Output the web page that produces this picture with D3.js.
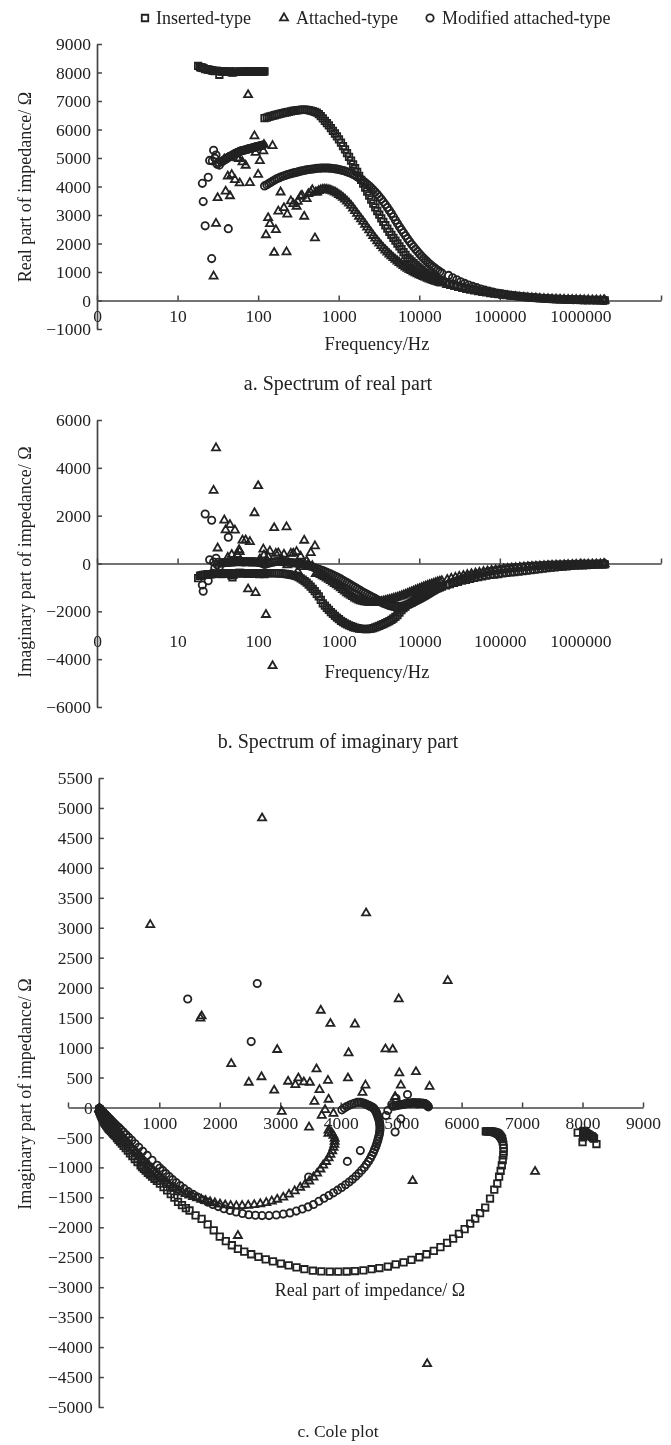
<!DOCTYPE html>
<html lang="en">
<head>
    <meta charset="UTF-8">
    <title>Impedance spectra</title>
    <script src="https://cdn.jsdelivr.net/npm/d3@7"></script>
    <style>
        body { margin: 0; background: #fff; }
        svg { display: block; filter: blur(0.45px); }
    </style>
</head>
<body>
<div id="chart"></div>
<script>
// every row is [frequency Hz, real part, imaginary part]
var insertedLow = [[18,8230,-610],[19,8190,-520],[19.5,8180,-510],[20,8170,-500],[20.5,8160,-490],[21,8150,-480],[22,8120,-470],[23.5,8110,-460],[24,8100,-455],[25,8090,-450],[26,8080,-445],[27,8070,-440],[28,8060,-435],[29,8050,-430],[30,8055,-430],[31,8060,-430],[33,7920,-420],[34,8050,-435],[35,8040,-440],[36,8035,-435],[37,8030,-430],[38,8030,-425],[39,8030,-420],[40,8025,-415],[42,8020,-400],[43.5,8030,-405],[45,8040,-410],[46.5,8010,-500],[48,8000,-580],[49.5,8010,-470],[51,8020,-400],[52.5,8025,-405],[54,8030,-410],[56,8025,-400],[58,8020,-390],[60,8025,-395],[62,8030,-400],[64,8025,-405],[66,8020,-410],[68,8030,-405],[70,8040,-400],[72,8035,-410],[74,8030,-420],[76,8025,-415],[78,8020,-410],[80.5,8030,-405],[83,8040,-400],[85.5,8030,-410],[88,8020,-420],[90.5,8025,-415],[93,8030,-410],[95.5,8035,-420],[98,8040,-430],[100.5,8030,-435],[103,8020,-440],[105.5,8025,-430],[108,8030,-420],[110.5,8030,-425],[113,8030,-430],[116.5,8035,-435],[120,8040,-440]];

var insertedCurve = [[120,6400,-400],[128,6420,-400],[135,6440,-400],[142,6460,-400],[150,6480,-400],[160,6500,-402],[170,6520,-405],[180,6538,-410],[190,6555,-415],[202,6572,-422],[215,6590,-430],[227,6605,-442],[240,6620,-455],[255,6635,-472],[270,6650,-490],[285,6660,-510],[300,6670,-530],[318,6680,-570],[337,6690,-620],[357,6695,-675],[378,6695,-735],[400,6690,-800],[424,6680,-880],[449,6665,-965],[476,6645,-1060],[504,6620,-1155],[534,6590,-1270],[566,6540,-1370],[599,6470,-1520],[635,6390,-1670],[673,6305,-1765],[713,6225,-1855],[755,6142,-1940],[800,6050,-2030],[847,5955,-2110],[898,5860,-2190],[951,5760,-2260],[1007,5650,-2330],[1067,5540,-2395],[1130,5420,-2450],[1197,5300,-2500],[1268,5170,-2545],[1343,5040,-2585],[1423,4910,-2620],[1507,4780,-2655],[1597,4640,-2680],[1692,4510,-2700],[1792,4375,-2720],[1898,4235,-2730],[2011,4100,-2738],[2130,3960,-2740],[2257,3820,-2740],[2390,3680,-2735],[2532,3540,-2725],[2683,3400,-2700],[2842,3270,-2670],[3010,3140,-2635],[3189,3010,-2605],[3378,2880,-2570],[3578,2760,-2535],[3791,2640,-2495],[4016,2520,-2450],[4254,2405,-2405],[4507,2300,-2360],[4774,2200,-2300],[5058,2100,-2230],[5358,2000,-2155],[5675,1900,-2050],[6012,1800,-1950],[6369,1700,-1860],[6747,1600,-1800],[7147,1500,-1720],[7571,1440,-1680],[8020,1375,-1630],[8496,1310,-1575],[9000,1250,-1505],[9534,1190,-1445],[10100,1130,-1385],[10700,1070,-1330],[11334,1010,-1270],[12007,960,-1225],[12719,920,-1190],[13474,880,-1155],[14273,845,-1120],[15120,810,-1090],[16018,775,-1055],[16968,745,-1025],[17975,715,-995],[19042,690,-965],[21400,640,-910],[24000,595,-860],[27000,555,-810],[30200,515,-765],[33900,480,-720],[38000,445,-680],[42700,410,-640],[47900,380,-605],[53700,350,-570],[60300,325,-540],[67600,300,-510],[75900,280,-480],[85100,260,-460],[95500,240,-440],[107000,220,-415],[120000,200,-395],[135000,180,-375],[151000,165,-355],[170000,150,-335],[191000,135,-315],[214000,120,-295],[240000,108,-275],[269000,96,-255],[302000,85,-235],[339000,75,-215],[380000,66,-195],[427000,58,-175],[479000,50,-158],[537000,44,-142],[603000,38,-128],[676000,33,-115],[759000,29,-103],[851000,25,-92],[955000,21,-82],[1070000,18,-73],[1200000,16,-65],[1350000,13,-57],[1510000,11,-50],[1700000,9,-44],[1910000,8,-39],[2000000,7,-36]];

var attachedScatter = [[28,850,3050],[30,2700,4830],[31.4,3600,640],[38,4960,1810],[39.5,3830,1400],[42,4360,250],[44.7,3670,1620],[47,4410,370],[51.5,4235,1390],[55,4995,370],[58,4970,575],[59,4120,490],[64,4860,970],[70,4740,975],[75,7215,-1070],[79,4130,910],[90,5770,2115],[93,5190,-1225],[100,4420,3245],[105,4900,180],[116,5245,595],[118,5470,350],[125,2300,-2140],[133,2900,285],[140,2690,510],[151,5430,-4280],[158,1680,1490],[166,2480,418],[178,3130,435],[190,3800,134],[209,3250,380],[225,1700,1525],[230,3025,-67],[255,3490,418],[273,3390,423],[300,3300,490],[310,3477,-330],[336,3650,296],[350,3687,-134],[373,2950,965],[400,3565,100],[420,3742,-38],[450,3790,450],[470,3880,-100],[507,2190,730],[520,3797,-435]];

var attachedCurve = [[540,3800,-380],[566,3850,-420],[599,3880,-470],[635,3900,-520],[673,3900,-570],[713,3895,-620],[755,3880,-670],[800,3860,-725],[847,3830,-785],[898,3800,-845],[951,3760,-905],[1007,3710,-965],[1067,3665,-1030],[1130,3610,-1100],[1197,3550,-1165],[1268,3480,-1230],[1343,3410,-1285],[1423,3330,-1335],[1507,3240,-1395],[1597,3145,-1450],[1692,3050,-1500],[1792,2950,-1535],[1898,2860,-1565],[2011,2770,-1590],[2130,2670,-1610],[2257,2570,-1625],[2390,2470,-1635],[2532,2370,-1640],[2683,2275,-1645],[2842,2180,-1640],[3010,2090,-1630],[3189,2005,-1615],[3378,1920,-1595],[3578,1840,-1575],[3791,1765,-1555],[4016,1695,-1535],[4254,1625,-1510],[4507,1560,-1490],[4774,1495,-1465],[5058,1435,-1440],[5358,1380,-1415],[5675,1325,-1385],[6012,1270,-1355],[6369,1220,-1325],[6747,1170,-1290],[7147,1125,-1260],[7571,1080,-1225],[8020,1040,-1190],[8496,1000,-1155],[9000,965,-1120],[9534,930,-1085],[10100,895,-1050],[10700,865,-1015],[11334,835,-980],[12007,805,-950],[12719,775,-920],[13474,745,-890],[14273,720,-860],[15120,695,-830],[16018,670,-800],[16968,645,-775],[17975,620,-750],[19042,600,-725],[22250,555,-675],[24960,515,-630],[28080,480,-585],[31400,445,-545],[35260,410,-505],[39500,380,-470],[44400,350,-435],[49800,320,-405],[55800,295,-375],[62700,270,-345],[70300,250,-320],[78900,230,-295],[88500,210,-275],[99300,195,-255],[111300,175,-235],[124800,160,-218],[140400,145,-200],[157000,130,-185],[176800,118,-170],[198600,106,-155],[222600,96,-142],[249600,86,-130],[279800,77,-118],[314000,69,-108],[352600,62,-98],[395200,55,-89],[444000,49,-81],[498200,44,-73],[558500,39,-66],[627100,34,-60],[703000,30,-54],[789400,27,-49],[885000,24,-44],[993200,21,-40],[1112800,18,-36],[1248000,16,-32],[1404000,14,-29],[1570400,12,-26],[1768000,10,-23],[1950000,9,-21],[2000000,8,-19]];

var modifiedScatter = [[20.3,4110,-900],[20.8,3470,-1160],[22,2620,2070],[24,4325,-720],[25,4915,155],[26.5,1470,1810],[27,4900,-410],[28,5270,60],[29,4995,-190],[30,5105,217],[31,4780,-50],[32,4845,50],[33,4750,-134],[35,4860,20],[36,4885,25],[37,4910,30],[38,4930,35],[39,4950,40],[40,4970,42],[41,4990,45],[42,5010,48],[42.6,2520,1100],[43,5030,50],[44,5045,55],[45,5060,60],[46.5,5080,62],[48,5100,65],[49.5,5125,68],[51,5150,70],[52.5,5165,72],[54,5180,75],[55.5,5195,78],[57,5210,80],[58.5,5225,78],[60,5240,75],[62,5250,72],[64,5260,70],[66,5270,70],[68,5280,70],[70,5290,72],[72,5300,75],[74,5310,72],[76,5320,70],[78.5,5330,68],[81,5340,65],[83.5,5350,68],[86,5360,70],[88.5,5370,68],[91,5380,65],[94,5390,62],[97,5400,60],[100,5410,52],[103,5420,45],[106,5430,35],[109,5440,25],[112,5445,18],[115,5450,10]];

var modifiedCurve = [[120,4020,-40],[128,4060,-10],[135,4100,15],[142,4140,35],[150,4180,55],[160,4225,70],[170,4270,85],[180,4300,85],[190,4330,85],[202,4358,78],[215,4385,70],[227,4408,60],[240,4430,50],[255,4450,40],[270,4470,30],[285,4485,22],[300,4500,15],[318,4520,5],[337,4540,-5],[357,4555,-25],[378,4570,-45],[400,4585,-70],[424,4595,-95],[449,4605,-120],[476,4615,-150],[504,4625,-180],[534,4635,-210],[566,4640,-240],[599,4645,-270],[635,4650,-300],[673,4650,-335],[713,4650,-370],[755,4645,-405],[800,4640,-445],[847,4630,-485],[898,4620,-525],[951,4610,-565],[1007,4595,-610],[1067,4580,-655],[1130,4560,-700],[1197,4540,-750],[1268,4515,-800],[1343,4490,-850],[1423,4460,-900],[1507,4425,-950],[1597,4390,-1000],[1692,4345,-1050],[1792,4300,-1100],[1898,4250,-1150],[2011,4195,-1200],[2130,4140,-1245],[2257,4080,-1290],[2390,4015,-1335],[2532,3950,-1380],[2683,3880,-1425],[2842,3805,-1470],[3010,3725,-1515],[3189,3640,-1565],[3378,3550,-1620],[3578,3460,-1660],[3791,3365,-1695],[4016,3265,-1730],[4254,3160,-1760],[4507,3050,-1780],[4774,2935,-1795],[5058,2815,-1805],[5358,2700,-1805],[5675,2590,-1800],[6012,2480,-1790],[6369,2375,-1770],[6747,2270,-1745],[7147,2170,-1720],[7571,2070,-1690],[8020,1975,-1655],[8496,1885,-1620],[9000,1800,-1580],[9534,1715,-1540],[10100,1630,-1495],[10700,1555,-1450],[11334,1480,-1405],[12007,1410,-1355],[12719,1345,-1305],[13474,1280,-1255],[14273,1220,-1205],[15120,1165,-1155],[16018,1110,-1105],[16968,1060,-1055],[17975,1010,-1010],[19042,965,-965],[23100,880,-880],[25900,800,-800],[29200,725,-730],[32600,660,-665],[36600,600,-605],[41000,545,-550],[46100,495,-500],[51700,450,-455],[58000,405,-410],[65100,365,-370],[73000,330,-335],[82000,295,-305],[91900,265,-275],[103100,240,-250],[115600,215,-225],[129600,195,-205],[145800,175,-185],[163100,155,-165],[183600,140,-150],[206300,125,-135],[231100,110,-122],[259200,100,-110],[290500,88,-98],[326200,78,-88],[366100,70,-78],[410400,62,-70],[461200,55,-62],[517300,48,-55],[580000,42,-50],[651200,37,-44],[730100,33,-40],[819700,29,-35],[919100,25,-31],[1031400,22,-28],[1155600,19,-25],[1296000,17,-22],[1458000,15,-20],[1630800,13,-18],[1836000,11,-16],[1970000,10,-15],[2000000,9,-14]];

var seriesNames = ["Inserted-type", "Attached-type", "Modified attached-type"];
var freqTicks = [1, 10, 100, 1000, 10000, 100000, 1000000, 10000000];
var freqTickLabels = ["0", "10", "100", "1000", "10000", "100000", "1000000", ""];
var realTicks = [-1000, 0, 1000, 2000, 3000, 4000, 5000, 6000, 7000, 8000, 9000];
var imagTicks = [-6000, -4000, -2000, 0, 2000, 4000, 6000];
var coleYTicks = [-5000, -4500, -4000, -3500, -3000, -2500, -2000, -1500, -1000, -500, 0, 500, 1000, 1500, 2000, 2500, 3000, 3500, 4000, 4500, 5000, 5500];
var coleXTicks = [-510, 1000, 2000, 3000, 4000, 5000, 6000, 7000, 8000, 9000];

var ink = "#222";
var serif = "'Liberation Serif', 'Times New Roman', serif";

var series = [
    {name: seriesNames[0], rows: insertedLow.concat(insertedCurve), symbol: d3.symbolSquare, size: 42},
    {name: seriesNames[1], rows: attachedScatter.concat(attachedCurve), symbol: d3.symbolTriangle, size: 28},
    {name: seriesNames[2], rows: modifiedScatter.concat(modifiedCurve), symbol: d3.symbolCircle, size: 42}
];

var svg = d3.select("#chart").append("svg")
    .attr("width", 671)
    .attr("height", 1445);

function label(x, y, text, size, rotate) {
    var t = svg.append("text")
        .attr("x", x)
        .attr("y", y)
        .attr("text-anchor", "middle")
        .attr("dominant-baseline", "central")
        .attr("font-family", serif)
        .attr("font-size", size)
        .attr("fill", ink)
        .text(text);
    if (rotate) t.attr("transform", "rotate(-90," + x + "," + y + ")");
}

function styleAxis(g) {
    g.attr("font-family", serif).attr("font-size", 17.5);
    g.selectAll("path").attr("stroke", "#444").attr("stroke-width", 1.7);
    g.selectAll("line").attr("stroke", "#444").attr("stroke-width", 1.5);
    g.selectAll("text").attr("fill", ink);
}

function drawMarks(x, y, px, py) {
    series.forEach(function(s) {
        svg.append("g").selectAll("path")
            .data(s.rows)
            .enter()
            .append("path")
            .attr("d", d3.symbol().type(s.symbol).size(s.size))
            .attr("transform", function(d) { return "translate(" + x(d[px]) + "," + y(d[py]) + ")"; })
            .attr("fill", "none")
            .attr("stroke", ink)
            .attr("stroke-width", 1.8);
    });
}

// spectrum panels a and b share the same log frequency axis
function spectrumPanel(yDomain, yRange, yTicks, valueIndex, yTitle, yTitlePos, freqLabelY, caption, captionY, labelPad) {
    var x = d3.scaleLog().domain([1, 10000000]).range([97, 661]);
    var y = d3.scaleLinear().domain(yDomain).range(yRange);

    var gy = svg.append("g")
        .attr("transform", "translate(97,0)")
        .call(d3.axisLeft(y).tickValues(yTicks).tickSizeInner(-5).tickSizeOuter(0).tickPadding(6).tickFormat(d3.format("d")));
    styleAxis(gy);

    var gx = svg.append("g")
        .attr("transform", "translate(0," + y(0) + ")")
        .call(d3.axisBottom(x).tickValues(freqTicks).tickSizeInner(-5).tickSizeOuter(0).tickPadding(labelPad)
            .tickFormat(function(d, i) { return freqTickLabels[i]; }));
    styleAxis(gx);

    drawMarks(x, y, 0, valueIndex);

    label(25, yTitlePos, yTitle, 18, true);
    label(377, freqLabelY, "Frequency/Hz", 18.5);
    label(338, captionY, caption, 20);
}

spectrumPanel([-1000, 9000], [329, 44], realTicks, 1, "Real part of impedance/ \u03A9", 187, 344, "a. Spectrum of real part", 383, 9);
spectrumPanel([-6000, 6000], [707, 420], imagTicks, 2, "Imaginary part of impedance/ \u03A9", 562, 672, "b. Spectrum of imaginary part", 741, 71);

// panel c, real against imaginary
var coleX = d3.scaleLinear().domain([-510, 9000]).range([68, 643]);
var coleY = d3.scaleLinear().domain([-5000, 5500]).range([1407, 778]);

var coleGy = svg.append("g")
    .attr("transform", "translate(" + coleX(0) + ",0)")
    .call(d3.axisLeft(coleY).tickValues(coleYTicks).tickSizeInner(-5).tickSizeOuter(0).tickPadding(6).tickFormat(d3.format("d")));
styleAxis(coleGy);

var coleGx = svg.append("g")
    .attr("transform", "translate(0," + coleY(0) + ")")
    .call(d3.axisBottom(coleX).tickValues(coleXTicks).tickSizeInner(-5).tickSizeOuter(0).tickPadding(9)
        .tickFormat(function(d) { return d < 0 ? "" : d; }));
styleAxis(coleGx);

drawMarks(coleX, coleY, 1, 2);

label(25, 1094, "Imaginary part of impedance/ \u03A9", 18, true);
label(370, 1290, "Real part of impedance/ \u03A9", 18);
label(338, 1431, "c. Cole plot", 17.5);

// legend across the top
var legendMarkX = [145, 284, 430];
var legendTextX = [156, 296, 442];
series.forEach(function(s, i) {
    svg.append("path")
        .attr("d", d3.symbol().type(s.symbol).size(s.size))
        .attr("transform", "translate(" + legendMarkX[i] + ",18)")
        .attr("fill", "none")
        .attr("stroke", ink)
        .attr("stroke-width", 1.8);
    svg.append("text")
        .attr("x", legendTextX[i])
        .attr("y", 18)
        .attr("dominant-baseline", "central")
        .attr("font-family", serif)
        .attr("font-size", 18)
        .attr("fill", ink)
        .text(s.name);
});
</script>
</body>
</html>
